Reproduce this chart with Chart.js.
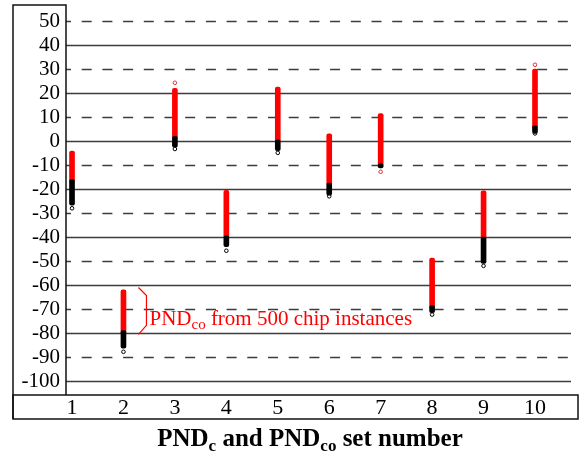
<!DOCTYPE html>
<html>
<head>
<meta charset="utf-8">
<script src="https://cdn.jsdelivr.net/npm/chart.js@4/dist/chart.umd.min.js"></script>
<style>
  body { margin: 0; background: #fff; }
  #chart { display: block; }
</style>
</head>
<body>
<canvas id="chart" width="582" height="454"></canvas>
<script>
// set numbers on the x axis
const setNumbers = [1, 2, 3, 4, 5, 6, 7, 8, 9, 10];
// y tick labels
const yTicks = [-100, -90, -80, -70, -60, -50, -40, -30, -20, -10, 0, 10, 20, 30, 40, 50];

// PND_co range (red) per set, from 500 chip instances
const pndCoMax = [-4.2, -62, 22, -20.5, 22.5, 3, 11.5, -48.8, -20.7, 30];
const pndCoMin = [-17, -80, 1, -40.5, -0.5, -18.5, -10.5, -69.5, -41, 5.4];
// PND_c lower ends (black)
const pndCMin = [-26.7, -86.3, -2.5, -44, -4, -22.5, -11.2, -71.5, -51, 3.2];
// single circles just past the ends of the columns
const blackCircleValues = [-28, -87.8, -3.3, -45.7, -4.9, -23, null, -72.3, -52, 3.2];
const redCircleSets = [3, 7, 10];
const redCircleValues = [24.3, -12.8, 31.8];

const serif = '"Liberation Serif", "DejaVu Serif", serif';

const framePlugin = {
    id: 'frame',
    beforeDatasetsDraw(chart) {
        const ctx = chart.ctx;
        const y = chart.scales.y;
        const area = chart.chartArea;
        ctx.save();
        ctx.strokeStyle = '#3c3c3c';
        ctx.lineWidth = 1.5;
        yTicks.forEach(v => {
            const py = Math.round(y.getPixelForValue(v)) + 0.5;
            ctx.beginPath();
            if (v % 20 === 0) {
                ctx.setLineDash([]);
                ctx.moveTo(area.left, py);
                ctx.lineTo(area.right, py);
            } else {
                ctx.setLineDash([10, 10.7]);
                ctx.lineDashOffset = 5;
                ctx.moveTo(area.left, py);
                ctx.lineTo(area.right - 3, py);
            }
            ctx.stroke();
        });
        ctx.restore();
    },
    afterDraw(chart) {
        const ctx = chart.ctx;
        const x = chart.scales.x;
        const y = chart.scales.y;
        const area = chart.chartArea;
        ctx.save();
        // boxes around the tick labels
        ctx.strokeStyle = '#111';
        ctx.lineWidth = 1.5;
        ctx.beginPath();
        ctx.moveTo(13, area.bottom + 24);
        ctx.lineTo(13, area.top);
        ctx.lineTo(area.left, area.top);
        ctx.lineTo(area.left, area.bottom);
        ctx.stroke();
        ctx.strokeRect(13, area.bottom, 578 - 13, 24);

        // bracket and note for set 2
        const bx = x.getPixelForValue(2) + 15;
        const top = y.getPixelForValue(pndCoMax[1] + 1);
        const bot = y.getPixelForValue(pndCoMin[1] - 0.5);
        ctx.strokeStyle = '#ff0000';
        ctx.lineWidth = 1.2;
        ctx.beginPath();
        ctx.moveTo(bx, top);
        ctx.lineTo(bx + 8, top + 8);
        ctx.lineTo(bx + 8, bot - 9);
        ctx.lineTo(bx, bot);
        ctx.stroke();

        ctx.fillStyle = '#ff0000';
        ctx.textBaseline = 'alphabetic';
        ctx.textAlign = 'left';
        let tx = bx + 11;
        const ty = (top + bot) / 2 + 14;
        ctx.font = '21px ' + serif;
        ctx.fillText('PND', tx, ty);
        tx += ctx.measureText('PND').width;
        ctx.font = '15px ' + serif;
        ctx.fillText('co', tx, ty + 4);
        tx += ctx.measureText('co').width;
        ctx.font = '21px ' + serif;
        ctx.fillText(' from 500 chip instances', tx, ty);

        // axis title with subscripts
        const parts = [
            ['PND', false], ['c', true], [' and PND', false], ['co', true], [' set number', false]
        ];
        const big = 'bold 25px ' + serif;
        const small = 'bold 17px ' + serif;
        let total = 0;
        parts.forEach(p => {
            ctx.font = p[1] ? small : big;
            total += ctx.measureText(p[0]).width;
        });
        let cx = 310 - total / 2;
        const cy = 446;
        ctx.fillStyle = '#000';
        parts.forEach(p => {
            ctx.font = p[1] ? small : big;
            ctx.fillText(p[0], cx, p[1] ? cy + 5 : cy);
            cx += ctx.measureText(p[0]).width;
        });
        ctx.restore();
    }
};

const ctx = document.getElementById('chart').getContext('2d');
new Chart(ctx, {
    data: {
        datasets: [
            {
                type: 'bar',
                label: 'PND_c',
                data: setNumbers.map((s, i) => ({ x: s, y: [pndCMin[i], pndCoMin[i] + 1] })),
                backgroundColor: '#000',
                barThickness: 5,
                grouped: false,
                borderRadius: 2,
                borderSkipped: false
            },
            {
                type: 'bar',
                label: 'PND_co',
                data: setNumbers.map((s, i) => ({ x: s, y: [pndCoMin[i], pndCoMax[i]] })),
                backgroundColor: '#ff0000',
                barThickness: 5,
                grouped: false,
                borderRadius: 2,
                borderSkipped: false
            },
            {
                type: 'scatter',
                label: 'PND_c ends',
                data: setNumbers.map((s, i) => ({ x: s, y: blackCircleValues[i] })),
                pointRadius: 1.8,
                borderWidth: 1,
                borderColor: '#000',
                backgroundColor: '#fff'
            },
            {
                type: 'scatter',
                label: 'PND_co ends',
                data: redCircleSets.map((s, i) => ({ x: s, y: redCircleValues[i] })),
                pointRadius: 1.8,
                borderWidth: 1,
                borderColor: '#e03030',
                backgroundColor: '#fff'
            }
        ]
    },
    options: {
        responsive: false,
        animation: false,
        layout: { padding: { left: 0, right: 11, top: 5, bottom: 0 } },
        plugins: {
            legend: { display: false },
            title: { display: false },
            tooltip: { enabled: false }
        },
        scales: {
            x: {
                type: 'linear',
                offset: false,
                min: 0.883,
                max: 10.7,
                afterBuildTicks: scale => { scale.ticks = setNumbers.map(v => ({ value: v })); },
                afterFit: scale => {
                    scale.height = 59;
                    scale.paddingLeft = 0;
                    scale.paddingRight = 0;
                },
                grid: { display: false, drawTicks: false, offset: false },
                border: { display: false },
                ticks: {
                    padding: 0,
                    color: '#000',
                    font: { family: serif, size: 22 },
                    maxRotation: 0,
                    autoSkip: false
                }
            },
            y: {
                type: 'linear',
                min: -105.8,
                max: 56.7,
                afterBuildTicks: scale => { scale.ticks = yTicks.map(v => ({ value: v })); },
                afterFit: scale => {
                    scale.width = 66;
                    scale.paddingTop = 0;
                    scale.paddingBottom = 0;
                },
                grid: { display: false, drawTicks: false },
                border: { display: false },
                ticks: {
                    padding: 6,
                    color: '#000',
                    font: { family: serif, size: 21 },
                    autoSkip: false
                }
            }
        }
    },
    plugins: [framePlugin]
});
</script>
</body>
</html>
